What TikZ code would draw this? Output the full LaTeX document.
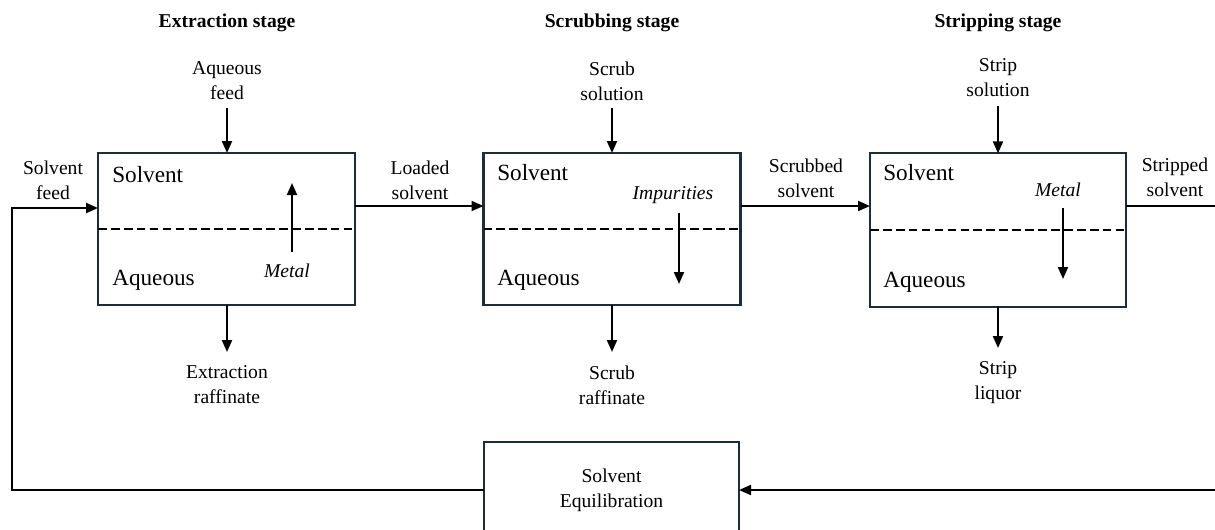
\documentclass[tikz,border=0pt]{standalone}
\usepackage{fontspec}
\setmainfont{Liberation Serif}
\usetikzlibrary{arrows.meta}

\tikzset{
    stagebox/.style={draw={rgb,255:red,30;green,45;blue,60},line width=1.6pt,inner sep=0pt,outer sep=0pt,minimum width=#1},
    stagebox/.default=192.75pt,
    lbl/.style={align=center,inner sep=0pt,font=\fontsize{14.7}{18.75}\selectfont},
    ttl/.style={inner sep=0pt,font=\fontsize{14.7}{18.75}\selectfont\bfseries},
    phase/.style={anchor=west,inner sep=0pt,font=\fontsize{17.4}{20}\selectfont},
    conn/.style={line width=1.5pt,-{Triangle[length=9pt,width=7.5pt]}},
}

\begin{document}
\begin{tikzpicture}[x=0.75pt,y=-0.75pt]
                \useasboundingbox (0,0) rectangle (1215,529);
                \clip (0,0) rectangle (1215,529);

                % the three stages
                \node[stagebox,minimum height=114pt] (ext) at (226.5,229) {};
                \node[stagebox,minimum height=114pt] (scr) at (612,229) {};
                \node[stagebox=192pt,minimum height=115pt] (str) at (998,230) {};
                \node[stagebox=191.25pt,minimum height=72pt,lbl] (equ) at (611.5,490) {Solvent\\Equilibration};

                \foreach \b in {ext,scr,str}
                    \draw[line width=1.5pt,dash pattern=on 6.5pt off 3.2pt] (\b.west) -- (\b.east);

                % titles
                \node[ttl] (t1) at (227,23) {Extraction stage};
                \node[ttl] (t2) at (612,23) {Scrubbing stage};
                \node[ttl] (t3) at (998,23) {Stripping stage};

                % phases
                \node[phase] (s1) at (112,175) {Solvent};
                \node[phase] (a1) at (112,280) {Aqueous};
                \node[phase] (s2) at (497,173) {Solvent};
                \node[phase] (a2) at (497,280) {Aqueous};
                \node[phase] (s3) at (883,173) {Solvent};
                \node[phase] (a3) at (883,282) {Aqueous};

                % transfer between phases
                \node[lbl,font=\fontsize{14.7}{18.75}\selectfont\itshape] (m1) at (287,271) {Metal};
                \node[lbl,font=\fontsize{14.7}{18.75}\selectfont\itshape] (im) at (673,195) {Impurities};
                \node[lbl,font=\fontsize{14.7}{18.75}\selectfont\itshape] (m3) at (1058,190) {Metal};
                \coordinate (m1a) at (292,252); \coordinate (m1b) at (292,183);
                \coordinate (ima) at (679,213); \coordinate (imb) at (679,284);
                \coordinate (m3a) at (1063,208); \coordinate (m3b) at (1063,279);
                \draw[conn] (m1a) -- (m1b);
                \draw[conn] (ima) -- (imb);
                \draw[conn] (m3a) -- (m3b);

                % feeds from above
                \node[lbl] (aqf) at (227,81) {Aqueous\\feed};
                \node[lbl] (scs) at (612,81) {Scrub\\solution};
                \node[lbl] (sts) at (998,78) {Strip\\solution};
                \coordinate (aqt) at (227,108); \coordinate (sct) at (612,108); \coordinate (stt) at (998,106);
                \draw[conn] (aqt) -- (aqt |- ext.north);
                \draw[conn] (sct) -- (sct |- scr.north);
                \draw[conn] (stt) -- (stt |- str.north);

                % products below
                \node[lbl] (exr) at (227,385) {Extraction\\raffinate};
                \node[lbl] (scrr) at (612,385) {Scrub\\raffinate};
                \node[lbl] (stl) at (998,383) {Strip\\liquor};
                \coordinate (exb) at (227,352); \coordinate (scb) at (612,352); \coordinate (stb) at (998,348);
                \draw[conn] (exb |- ext.south) -- (exb);
                \draw[conn] (scb |- scr.south) -- (scb);
                \draw[conn] (stb |- str.south) -- (stb);

                % solvent streams
                \node[lbl] (sf) at (53,180) {Solvent\\feed};
                \node[lbl] (ls) at (420,180) {Loaded\\solvent};
                \node[lbl] (ss) at (806,178) {Scrubbed\\solvent};
                \node[lbl] (sps) at (1175,177) {Stripped\\solvent};
                \coordinate (fd) at (12,208);
                \coordinate (ld) at (420,206);
                \coordinate (sd) at (806,206);
                \coordinate (rt) at (1240,206);
                \draw[conn] (equ.west) -| (fd) -- (fd -| ext.west);
                \draw[conn] (ld -| ext.east) -- (ld -| scr.west);
                \draw[conn] (sd -| scr.east) -- (sd -| str.west);
                \draw[conn] (rt -| str.east) -- (rt) |- (equ.east);

\end{tikzpicture}
\end{document}
